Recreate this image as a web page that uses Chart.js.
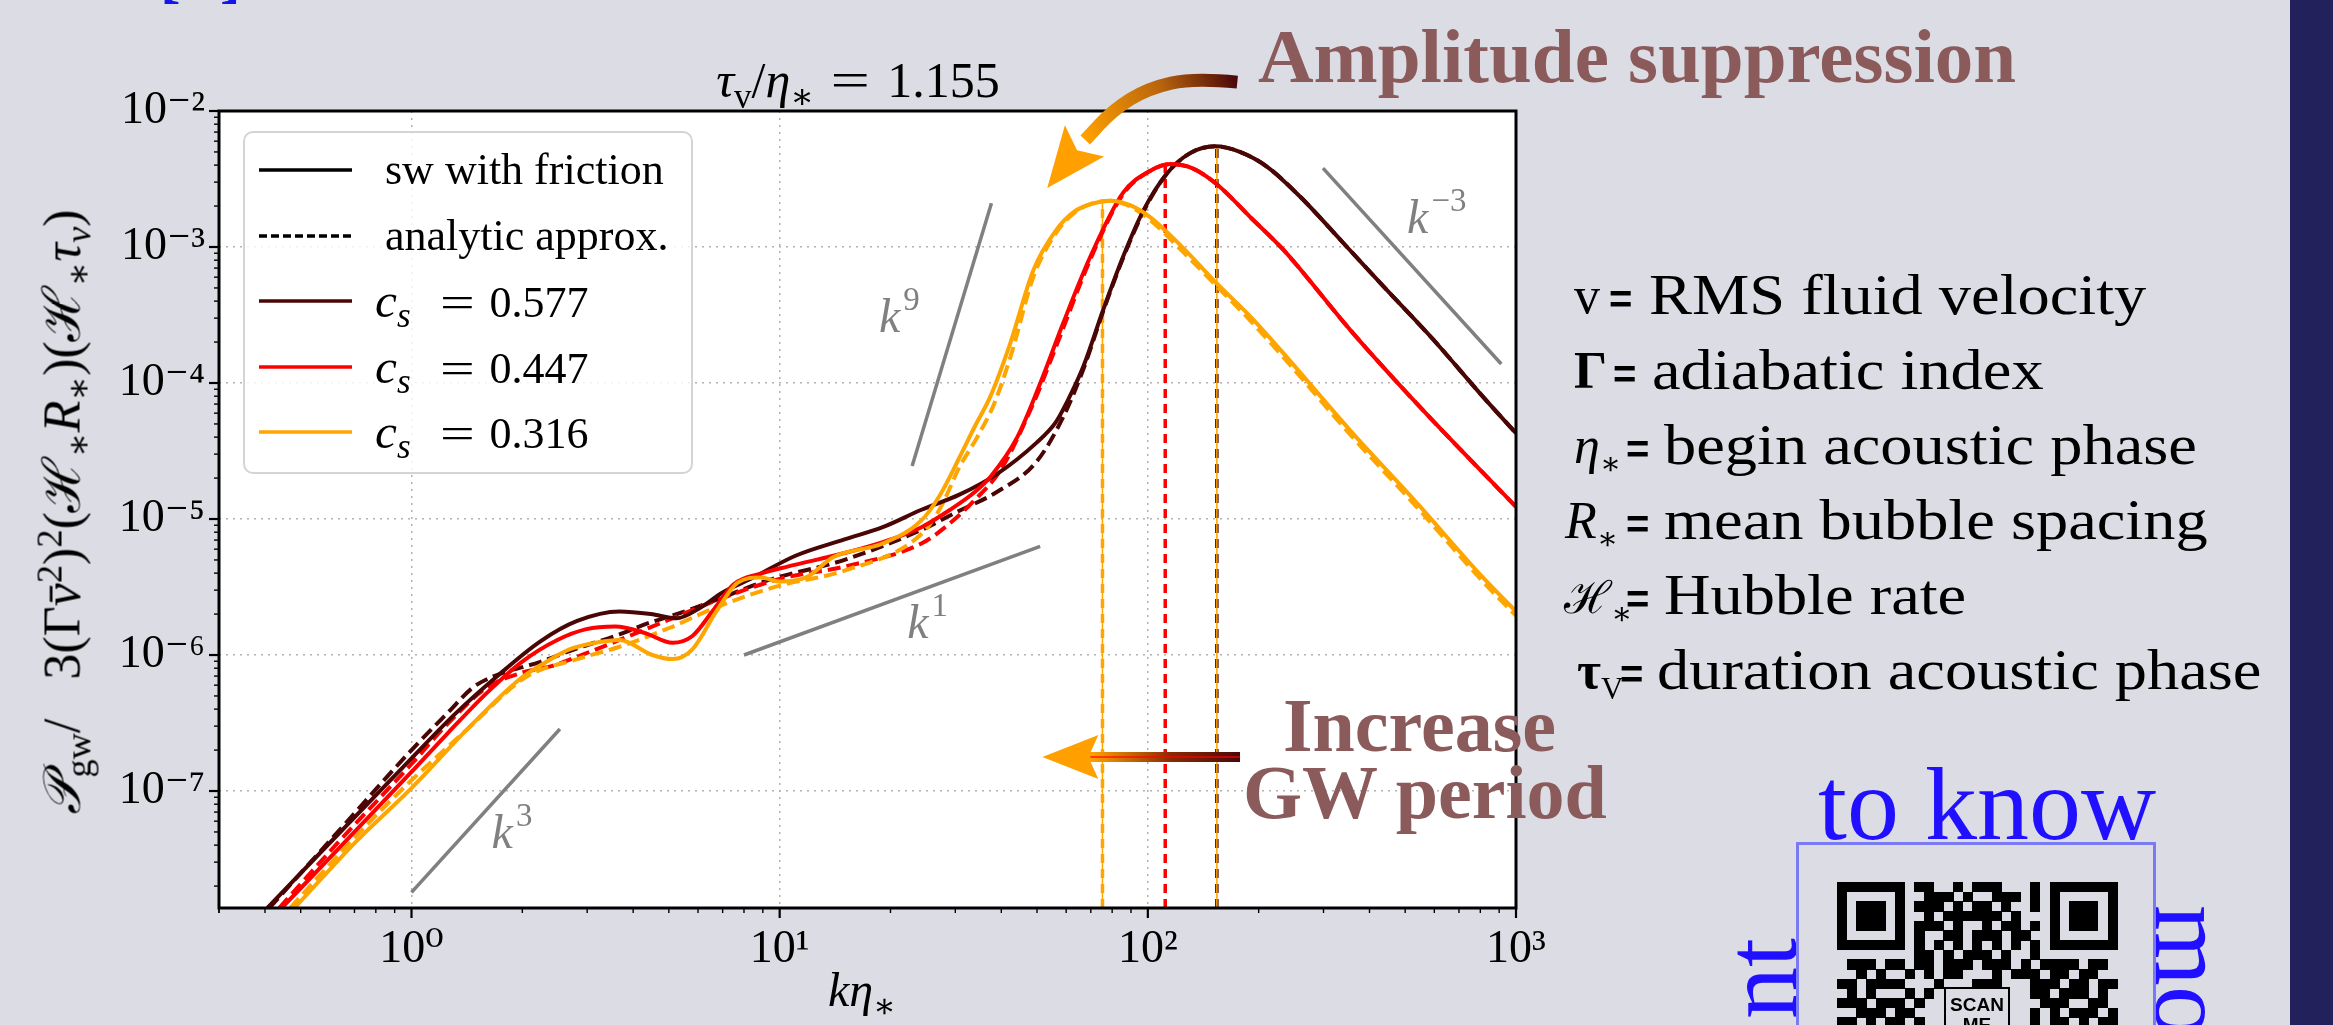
<!DOCTYPE html>
<html>
<head>
<meta charset="utf-8">
<title>GW spectrum with friction</title>
<script src="https://cdn.jsdelivr.net/npm/chart.js@4.4.1/dist/chart.umd.min.js"></script>
<style>
  html, body { margin:0; padding:0; background:#dcdde4; }
  body { width:2333px; height:1025px; overflow:hidden; position:relative; font-family:"Liberation Serif","DejaVu Serif",serif; color:#000; }
  #chart { position:absolute; left:0; top:0; }
  .abs { position:absolute; white-space:nowrap; line-height:1; }
  sub, sup { line-height:0; }
  #legend { position:absolute; left:243px; top:131px; width:450px; height:343px; box-sizing:border-box;
            border:2px solid #d4d4d4; border-radius:10px; background:rgba(255,255,255,0.82); }
  .lrow { position:absolute; left:0; width:100%; height:66px; }
  .lrow svg { position:absolute; left:13px; top:28px; }
  .ltxt { position:absolute; left:140px; top:0; height:66px; line-height:66px; font-size:44px; white-space:nowrap; }
  .wideeq { display:inline-block; transform:scaleX(1.4); }
  .qrm { position:absolute; background:#000; }
</style>
</head>
<body>
<canvas id="chart" width="2333" height="1025"></canvas>
<div id="legend"></div>
<script>
// ------------------------- DATA -------------------------
const xTickValues = [1, 10, 100, 1000];
const xTickLabels = ['10⁰', '10¹', '10²', '10³'];
const yTickValues = [1e-7, 1e-6, 1e-5, 1e-4, 1e-3, 1e-2];
const yTickLabels = ['10⁻⁷', '10⁻⁶', '10⁻⁵', '10⁻⁴', '10⁻³', '10⁻²'];

const seriesLabels = ['0.577', '0.447', '0.316'];
const seriesColors = ['#4a0505', '#ff0000', '#ffa500'];

// c_s = 0.577 (dark)
const kDarkSolid = [0.406,0.631,1.0,1.318,1.702,2.239,2.818,3.673,4.467,5.248,6.026,7.0,8.49,11.04,15.0,19.05,24.27,30.76,38.9,49.8,56.2,60.3,66.8,75.7,85.7,97.3,112.7,130.3,152.4,177.8,210.9,259.4,339.6,436.5,595.7,812.8,1000];
const pDarkSolid = [1.38e-8,4.79e-8,1.74e-7,3.72e-7,6.92e-7,1.26e-6,1.78e-6,2.09e-6,2.0e-6,1.86e-6,2.19e-6,2.88e-6,3.72e-6,5.37e-6,7.08e-6,8.71e-6,1.17e-5,1.51e-5,2.14e-5,3.63e-5,5.13e-5,7.24e-5,1.32e-4,3.47e-4,8.51e-4,1.86e-3,3.47e-3,4.90e-3,5.50e-3,5.01e-3,3.89e-3,2.34e-3,1.07e-3,5.13e-4,2.09e-4,7.94e-5,4.27e-5];
const kDarkDash = [0.411,0.631,1.0,1.259,1.466,1.660,2.239,2.818,3.573,4.467,5.117,6.486,9.311,15.0,24.27,30.76,38.9,49.8,58.9,66.8,75.7,85.7,97.3,112.7,130.3,152.4,177.8,210.9,259.4,339.6,436.5,595.7,812.8,1000];
const pDarkDash = [1.38e-8,5.01e-8,2.0e-7,3.80e-7,5.75e-7,6.92e-7,8.91e-7,1.12e-6,1.38e-6,1.74e-6,1.95e-6,2.45e-6,3.55e-6,5.01e-6,8.32e-6,1.15e-5,1.58e-5,2.63e-5,5.62e-5,1.26e-4,3.39e-4,8.32e-4,1.82e-3,3.47e-3,4.90e-3,5.50e-3,5.01e-3,3.89e-3,2.34e-3,1.07e-3,5.13e-4,2.09e-4,7.94e-5,4.27e-5];

// c_s = 0.447 (red)
const kRedSolid = [0.444,0.631,1.0,1.259,1.600,1.995,2.489,2.985,3.573,4.315,5.117,5.794,6.607,7.499,8.913,10.5,15.0,19.05,24.27,29.04,33.88,37.33,44.16,51.05,58.88,69.82,85.7,100,115.1,131.8,154.2,189.7,233.3,354.8,537.0,812.8,1000];
const pRedSolid = [1.38e-8,3.72e-8,1.38e-7,2.69e-7,5.25e-7,8.91e-7,1.29e-6,1.55e-6,1.62e-6,1.45e-6,1.23e-6,1.38e-6,2.14e-6,3.31e-6,3.98e-6,4.47e-6,5.62e-6,6.76e-6,8.71e-6,1.17e-5,1.58e-5,2.04e-5,3.98e-5,1.0e-4,2.75e-4,8.51e-4,2.51e-3,3.55e-3,4.07e-3,3.80e-3,2.88e-3,1.66e-3,9.55e-4,2.45e-4,7.08e-5,2.19e-5,1.23e-5];
const kRedDash = [0.437,0.631,1.0,1.259,1.600,1.995,2.415,2.951,3.673,5.012,6.855,10,15.0,24.27,29.04,33.88,39.81,48.87,56.75,69.82,85.7,100,115.1,131.8,154.2,189.7,233.3,354.8,537.0,812.8,1000];
const pRedDash = [1.38e-8,4.17e-8,1.58e-7,3.16e-7,5.75e-7,7.41e-7,8.32e-7,1.02e-6,1.29e-6,1.82e-6,2.57e-6,3.63e-6,4.47e-6,6.61e-6,9.33e-6,1.38e-5,2.29e-5,7.08e-5,1.95e-4,8.13e-4,2.45e-3,3.55e-3,4.07e-3,3.80e-3,2.88e-3,1.66e-3,9.55e-4,2.45e-4,7.08e-5,2.19e-5,1.23e-5];

// c_s = 0.316 (orange)
const kOrangeSolid = [0.481,0.708,1.0,1.435,1.963,2.291,2.685,3.162,3.673,4.508,5.117,5.794,6.730,7.674,8.872,10,11.8,14.0,19.05,24.27,27.29,30.76,33.88,37.33,42.27,48.87,56.23,63.10,70.79,79.07,89.13,101.4,125.0,154.2,189.7,233.3,354.8,537.0,812.8,1000];
const pOrangeSolid = [1.38e-8,4.27e-8,1.05e-7,2.95e-7,6.61e-7,8.71e-7,1.10e-6,1.23e-6,1.29e-6,1.0e-6,9.33e-7,1.10e-6,2.09e-6,3.39e-6,3.72e-6,3.47e-6,3.72e-6,5.25e-6,6.61e-6,9.77e-6,1.51e-5,2.82e-5,4.79e-5,7.94e-5,1.95e-4,6.76e-4,1.32e-3,1.82e-3,2.09e-3,2.19e-3,2.04e-3,1.66e-3,9.77e-4,5.37e-4,3.09e-4,1.66e-4,4.47e-5,1.32e-5,3.72e-6,2.09e-6];
const kOrangeDash = [0.468,0.708,1.0,1.413,2.051,2.818,3.673,5.012,6.855,10,15.0,24.27,27.29,30.76,34.36,38.28,42.66,48.87,56.23,63.10,70.79,79.07,89.13,101.4,125.0,154.2,189.7,233.3,354.8,537.0,812.8,1000];
const pOrangeDash = [1.38e-8,4.68e-8,1.20e-7,2.82e-7,6.92e-7,9.33e-7,1.15e-6,1.58e-6,2.29e-6,3.24e-6,4.17e-6,7.76e-6,1.20e-5,2.40e-5,3.98e-5,7.08e-5,1.66e-4,6.03e-4,1.26e-3,1.78e-3,2.09e-3,2.19e-3,2.0e-3,1.58e-3,9.12e-4,5.13e-4,2.88e-4,1.55e-4,4.17e-5,1.23e-5,3.47e-6,1.95e-6];

// peak positions (vertical markers): dark, red, orange
const peakK = [154, 111.5, 75.3];
const peakP = [5.5e-3, 4.0e-3, 2.19e-3];

// power-law guide segments
const guideK3K = [1.0, 2.53],  guideK3P = [1.8e-8, 2.86e-7];
const guideK1K = [8.0, 51],    guideK1P = [1.0e-6, 6.3e-6];
const guideK9K = [22.9, 37.6], guideK9P = [2.45e-5, 2.1e-3];
const guideKm3K = [299, 912],  guideKm3P = [3.8e-3, 1.38e-4];
const guideLabelExp = ['3', '1', '9', '−3'];
const guideLabelK = [1.65, 22.2, 18.6, 506];
const guideLabelP = [3.8e-8, 1.33e-6, 2.37e-4, 1.26e-3];

// annotation arrows (in data coordinates)
const amplitudeArrowK = [175, 133.6, 100.2, 80.5, 67.6];
const amplitudeArrowP = [1.63e-2, 1.75e-2, 1.47e-2, 1.02e-2, 6.12e-3];
const amplitudeArrowTip = [53.3, 2.72e-3];
const increaseArrowK = [178, 51.7];
const increaseArrowP = [1.78e-7, 1.78e-7];

const X_MIN = 0.3, X_MAX = 1000, Y_MIN = 1.38e-8, Y_MAX = 1e-2;

// ------------------------- CHART -------------------------
const DARK = seriesColors[0], RED = seriesColors[1], ORANGE = seriesColors[2];
const pts = (k, p) => k.map((x, i) => ({x, y: p[i]}));
function curve(k, p, color, dash, width) {
  return { data: pts(k, p), borderColor: color, borderWidth: width, borderDash: dash,
           pointRadius: 0, fill: false, cubicInterpolationMode: 'monotone' };
}
function seg(k, p, color, dash, width) {
  return { data: pts(k, p), borderColor: color, borderWidth: width, borderDash: dash,
           pointRadius: 0, fill: false, tension: 0 };
}

const datasets = [
  curve(kOrangeSolid, pOrangeSolid, ORANGE, [], 4),
  curve(kRedSolid, pRedSolid, RED, [], 4),
  curve(kDarkSolid, pDarkSolid, DARK, [], 4),
  curve(kOrangeDash, pOrangeDash, ORANGE, [13, 6], 4),
  curve(kRedDash, pRedDash, RED, [13, 6], 4),
  curve(kDarkDash, pDarkDash, DARK, [13, 6], 4),
  seg([peakK[2], peakK[2]], [Y_MIN, peakP[2]], ORANGE, [], 1.5),
  seg([peakK[0], peakK[0]], [Y_MIN, peakP[0]], ORANGE, [], 1.5),
  seg([peakK[0], peakK[0]], [Y_MIN, peakP[0]], DARK, [9, 6], 3.5),
  seg([peakK[1], peakK[1]], [Y_MIN, peakP[1]], RED, [9, 6], 3.5),
  seg([peakK[2], peakK[2]], [Y_MIN, peakP[2]], ORANGE, [9, 6], 3.5),
  seg(guideK3K, guideK3P, '#808080', [], 3.5),
  seg(guideK1K, guideK1P, '#808080', [], 3.5),
  seg(guideK9K, guideK9P, '#808080', [], 3.5),
  seg(guideKm3K, guideKm3P, '#808080', [], 3.5)
];

const isDecade = v => { const l = Math.log10(v); return Math.abs(l - Math.round(l)) < 1e-6; };
const intMantissa = v => { const e = Math.floor(Math.log10(v) + 1e-9); const m = v / Math.pow(10, e); return Math.abs(m - Math.round(m)) < 1e-6; };
function labelFor(values, labels, v) {
  for (let i = 0; i < values.length; i++) if (Math.abs(v / values[i] - 1) < 1e-6) return labels[i];
  return '';
}

function drawArrowHead(ctx, tip, from, len, half, notch, color) {
  let dx = tip.x - from.x, dy = tip.y - from.y; const d = Math.hypot(dx, dy); dx /= d; dy /= d;
  const nx = -dy, ny = dx;
  const bx = tip.x - dx * len, by = tip.y - dy * len;
  ctx.beginPath();
  ctx.moveTo(tip.x, tip.y);
  ctx.lineTo(bx + nx * half, by + ny * half);
  ctx.lineTo(tip.x - dx * (len - notch), tip.y - dy * (len - notch));
  ctx.lineTo(bx - nx * half, by - ny * half);
  ctx.closePath();
  ctx.fillStyle = color; ctx.fill();
}

const decorPlugin = {
  id: 'decor',
  beforeDraw(chart) {
    const {ctx, chartArea: a} = chart;
    ctx.save();
    ctx.fillStyle = '#ffffff';
    ctx.fillRect(a.left, a.top, a.right - a.left, a.bottom - a.top);
    ctx.restore();
  },
  afterDatasetsDraw(chart) {
    const {ctx, chartArea: a, scales: {x, y}} = chart;
    ctx.save();
    // guide labels  k^n
    ctx.fillStyle = '#808080';
    for (let i = 0; i < guideLabelK.length; i++) {
      const px = x.getPixelForValue(guideLabelK[i]), py = y.getPixelForValue(guideLabelP[i]);
      ctx.font = 'italic 48px "Liberation Serif"';
      ctx.textBaseline = 'alphabetic'; ctx.textAlign = 'left';
      ctx.fillText('k', px, py);
      const w = ctx.measureText('k').width;
      ctx.font = '33px "Liberation Serif"';
      ctx.fillText(guideLabelExp[i], px + w + 3, py - 22);
    }
    // frame
    ctx.strokeStyle = '#000'; ctx.lineWidth = 3;
    ctx.strokeRect(a.left, a.top, a.right - a.left, a.bottom - a.top);
    // tick marks
    ctx.lineCap = 'butt';
    x.ticks.forEach(t => {
      const v = t.value; if (!intMantissa(v)) return;
      const px = x.getPixelForValue(v); if (px < a.left - 1 || px > a.right + 1) return;
      const maj = isDecade(v);
      ctx.lineWidth = maj ? 2.2 : 1.4;
      ctx.beginPath(); ctx.moveTo(px, a.bottom); ctx.lineTo(px, a.bottom + (maj ? 10 : 5)); ctx.stroke();
    });
    y.ticks.forEach(t => {
      const v = t.value; if (!intMantissa(v)) return;
      const py = y.getPixelForValue(v); if (py < a.top - 1 || py > a.bottom + 1) return;
      const maj = isDecade(v);
      ctx.lineWidth = maj ? 2.2 : 1.4;
      ctx.beginPath(); ctx.moveTo(a.left - (maj ? 10 : 5), py); ctx.lineTo(a.left, py); ctx.stroke();
    });
    ctx.restore();
  },
  afterDraw(chart) {
    const {ctx, scales: {x, y}} = chart;
    const P = (k, p) => ({x: x.getPixelForValue(k), y: y.getPixelForValue(p)});
    ctx.save();
    // curved "amplitude suppression" arrow
    const ap = amplitudeArrowK.map((k, i) => P(k, amplitudeArrowP[i]));
    const tip = P(amplitudeArrowTip[0], amplitudeArrowTip[1]);
    const g = ctx.createLinearGradient(ap[0].x, ap[0].y, ap[ap.length - 1].x, ap[ap.length - 1].y);
    g.addColorStop(0, '#4a0808'); g.addColorStop(0.45, '#b8640e'); g.addColorStop(1, '#ffa000');
    ctx.strokeStyle = g; ctx.lineWidth = 13; ctx.lineCap = 'butt'; ctx.lineJoin = 'round';
    ctx.beginPath(); ctx.moveTo(ap[0].x, ap[0].y);
    for (let i = 1; i < ap.length - 1; i++) {
      const mx = (ap[i].x + ap[i + 1].x) / 2, my = (ap[i].y + ap[i + 1].y) / 2;
      ctx.quadraticCurveTo(ap[i].x, ap[i].y, mx, my);
    }
    ctx.lineTo(ap[ap.length - 1].x, ap[ap.length - 1].y);
    ctx.stroke();
    drawArrowHead(ctx, tip, ap[ap.length - 1], 60, 25, 12, '#ffa000');
    // straight "increase GW period" arrow
    const t0 = P(increaseArrowK[0], increaseArrowP[0]), t1 = P(increaseArrowK[1], increaseArrowP[1]);
    const g2 = ctx.createLinearGradient(t0.x, t0.y, t1.x, t1.y);
    g2.addColorStop(0, '#4a0808'); g2.addColorStop(0.35, '#8a2a05'); g2.addColorStop(0.75, '#ffa000'); g2.addColorStop(1, '#ffa000');
    ctx.strokeStyle = g2; ctx.lineWidth = 10;
    ctx.beginPath(); ctx.moveTo(t0.x, t0.y); ctx.lineTo(t1.x + 40, t1.y); ctx.stroke();
    ctx.strokeStyle = 'rgba(255,0,0,0.8)'; ctx.lineWidth = 1.5;
    ctx.beginPath(); ctx.moveTo(t0.x, t0.y); ctx.lineTo(t1.x + 48, t1.y); ctx.stroke();
    drawArrowHead(ctx, t1, t0, 56, 22, 10, '#ffa000');
    ctx.restore();
  }
};

Chart.defaults.font.family = '"Liberation Serif", "DejaVu Serif", serif';
new Chart(document.getElementById('chart'), {
  type: 'line',
  data: { datasets },
  options: {
    responsive: false, animation: false, devicePixelRatio: 1, events: [],
    layout: { padding: { left: 59, right: 817, top: 111, bottom: 37 } },
    plugins: { legend: { display: false }, tooltip: { enabled: false }, title: { display: false } },
    scales: {
      x: {
        type: 'logarithmic', min: X_MIN, max: X_MAX,
        afterFit: s => { s.height = 80; },
        border: { display: false, dash: [2, 5] },
        grid: { drawTicks: false, lineWidth: 1.5, color: c => (c.tick && isDecade(c.tick.value)) ? '#b2b2b2' : 'rgba(0,0,0,0)' },
        ticks: { autoSkip: false, maxRotation: 0, padding: 14, color: '#000', font: { size: 46 },
                 callback: v => labelFor(xTickValues, xTickLabels, v) }
      },
      y: {
        type: 'logarithmic', min: Y_MIN, max: Y_MAX,
        afterFit: s => { s.width = 160; },
        border: { display: false, dash: [2, 5] },
        grid: { drawTicks: false, lineWidth: 1.5, color: c => (c.tick && isDecade(c.tick.value)) ? '#b2b2b2' : 'rgba(0,0,0,0)' },
        ticks: { autoSkip: false, padding: 14, color: '#000', font: { size: 46 },
                 callback: v => labelFor(yTickValues, yTickLabels, v) }
      }
    }
  },
  plugins: [decorPlugin]
});

// ------------------------- HTML TEXT OVERLAYS -------------------------
const ASC = 0.8375; // baseline offset for line-height:1 Liberation Serif
function place(html, x, baseline, size, style = '', center = false) {
  const d = document.createElement('div');
  d.className = 'abs';
  d.innerHTML = html;
  d.style.left = x + 'px';
  d.style.top = (baseline - ASC * size) + 'px';
  d.style.fontSize = size + 'px';
  if (center) d.style.transform = 'translateX(-50%)';
  if (style) d.style.cssText += style;
  document.body.appendChild(d);
  return d;
}

// title and axis labels
place('<i>τ</i><sub style="font-size:0.7em">v</sub>/<i>η</i><sub style="font-size:0.7em">∗</sub> &thinsp;<span class="wideeq">=</span> &thinsp;1.155', 858, 97, 50, '', true);
place('<i>k</i><i>η</i><sub style="font-size:0.7em">∗</sub>', 862, 1006, 48, '', true);
const yl = document.createElement('div');
yl.className = 'abs';
yl.style.cssText += 'left:62px;top:512px;font-size:52px;transform:translate(-50%,-50%) rotate(-90deg);';
yl.innerHTML = '<span style="font-family:\'DejaVu Serif\';font-style:italic">𝒫</span><sub style="font-size:0.7em">gw</sub>/ &nbsp;&nbsp;3(Γ<i>v̄</i><sup style="font-size:0.7em">2</sup>)<sup style="font-size:0.7em">2</sup>(<span style="font-family:\'DejaVu Serif\'">ℋ</span><sub style="font-size:0.7em">∗</sub><i>R</i><sub style="font-size:0.7em">∗</sub>)(<span style="font-family:\'DejaVu Serif\'">ℋ</span><sub style="font-size:0.7em">∗</sub><i>τ</i><sub style="font-size:0.7em"><i>v</i></sub>)';
document.body.appendChild(yl);

// legend (HTML legend for the Chart.js chart)
const csLabel = v => '<i style="font-size:1.12em">c</i><sub style="font-size:0.8em"><i>s</i></sub>' +
  '<span class="wideeq" style="margin-left:34px">=</span><span style="margin-left:20px">' + v + '</span>';
const legendRows = [
  { text: 'sw with friction', color: '#000', dash: '' },
  { text: 'analytic approx.', color: '#000', dash: '8 4' },
  { text: csLabel(seriesLabels[0]), color: DARK, dash: '' },
  { text: csLabel(seriesLabels[1]), color: RED, dash: '' },
  { text: csLabel(seriesLabels[2]), color: ORANGE, dash: '' }
];
const legend = document.getElementById('legend');
legendRows.forEach((r, i) => {
  const row = document.createElement('div');
  row.className = 'lrow';
  row.style.top = (39 + i * 65.6 - 33 - 2) + 'px';
  row.innerHTML = '<svg width="95" height="10"><line x1="1" y1="5" x2="94" y2="5" stroke="' + r.color + '" stroke-width="3.5"' +
    (r.dash ? ' stroke-dasharray="' + r.dash + '"' : '') + '/></svg><div class="ltxt"' + (i > 1 ? ' style="left:130px"' : '') + '>' + r.text + '</div>';
  legend.appendChild(row);
});

// annotations
const BROWN = '#8b5b5c';
place('Amplitude suppression', 1258, 82, 77, 'font-weight:bold;color:' + BROWN);
place('Increase', 1283, 751, 76, 'font-weight:bold;color:' + BROWN);
place('GW period', 1243, 818, 76, 'font-weight:bold;color:' + BROWN);

// definitions list
const defs = [
  { sym: 'v', eq: 1609, desc: 'RMS fluid velocity', dx: 1649, base: 314, symx: 1574 },
  { sym: '<b>Γ</b>', eq: 1613, desc: 'adiabatic index', dx: 1652, base: 389, symx: 1574 },
  { sym: '<i>η</i><sub style="font-size:0.6em">∗</sub>', eq: 1626, desc: 'begin acoustic phase', dx: 1664, base: 464, symx: 1574 },
  { sym: '<i>R</i><sub style="font-size:0.6em">∗</sub>', eq: 1626, desc: 'mean bubble spacing', dx: 1664, base: 539, symx: 1565 },
  { sym: '<span style="font-family:\'DejaVu Serif\';font-size:0.86em">ℋ</span><sub style="font-size:0.6em">∗</sub>', eq: 1626, desc: 'Hubble rate', dx: 1664, base: 614, symx: 1564 },
  { sym: '<b>τ</b><sub style="font-size:0.6em">V</sub>', eq: 1620, desc: 'duration acoustic phase', dx: 1657, base: 689, symx: 1577 }
];
defs.forEach(d => {
  place(d.sym, d.symx, d.base, 52);
  place('=', d.eq, d.base - 2, 40, 'font-family:"Liberation Sans",sans-serif;font-weight:bold;');
  place(d.desc, d.dx, d.base, 56, 'transform-origin:0 0;transform:scaleX(1.15)');
});

// slide decorations: citation brackets, QR block and blue caption
const BLUE = '#2010ff';
place('[', 160, -4, 62, 'font-weight:bold;color:#1414f0');
place(']', 220, -4, 62, 'font-weight:bold;color:#1414f0');
place('to know', 1818, 839, 104, 'color:' + BLUE);
const nt = place('nt', 0, 0, 104, 'color:' + BLUE);
nt.style.cssText += 'left:1709px;top:1238px;width:300px;text-align:right;transform-origin:0 0;transform:rotate(-90deg);';
const mo = place('mo', 0, 0, 104, 'color:' + BLUE);
mo.style.cssText += 'left:2243px;top:905px;transform-origin:0 0;transform:rotate(90deg);';

const qrBox = document.createElement('div');
qrBox.style.cssText = 'position:absolute;left:1796px;top:842px;width:360px;height:260px;box-sizing:border-box;border:3px solid #7a7af2;';
document.body.appendChild(qrBox);
const qrRows = [
  '11111110110010111000101111111',
  '10000010011101001110101000001',
  '10111010111010110100101011101',
  '10111010010111111010001011101',
  '10111010111010010110101011101',
  '10000010100110111011001000001',
  '11111110101010101010101111111',
  '00000000110101110100100000000',
  '01110110110111011101011110110',
  '00101001010110001011101101100',
  '11011110001000111000111011011',
  '01010001010000000000110111010',
  '11101110100000000000011100110',
  '00111011000000000000101011101',
  '11010110100000000000101101011'
];
const QX = 1837, QY = 882, QM = 9.66;
qrRows.forEach((row, r) => {
  for (let c = 0; c < row.length; c++) {
    if (row[c] !== '1') continue;
    const m = document.createElement('div');
    m.className = 'qrm';
    m.style.left = (QX + c * QM).toFixed(1) + 'px';
    m.style.top = (QY + r * QM).toFixed(1) + 'px';
    m.style.width = (QM + 0.6).toFixed(1) + 'px';
    m.style.height = (QM + 0.6).toFixed(1) + 'px';
    document.body.appendChild(m);
  }
});
const scan = document.createElement('div');
scan.style.cssText = 'position:absolute;left:1944px;top:987px;width:66px;height:60px;border-top:2px solid #000;border-left:2px solid #000;border-right:2px solid #000;box-sizing:border-box;font:bold 19px "Liberation Sans",sans-serif;text-align:center;line-height:20px;padding-top:6px;';
scan.innerHTML = 'SCAN<br>ME';
document.body.appendChild(scan);

const band = document.createElement('div');
band.style.cssText = 'position:absolute;left:2290px;top:0;width:43px;height:1025px;background:#23215c;';
document.body.appendChild(band);
</script>
</body>
</html>
